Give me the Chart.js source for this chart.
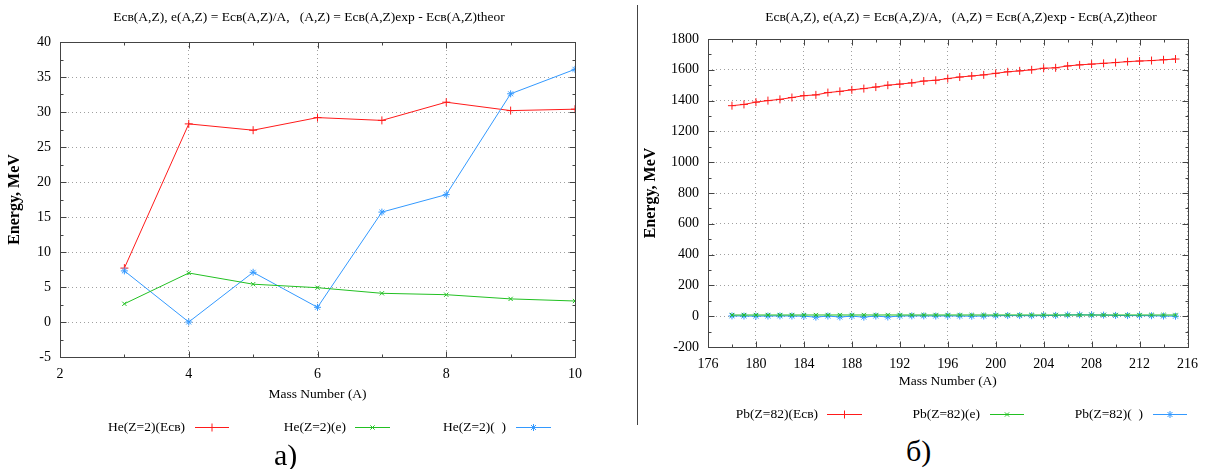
<!DOCTYPE html>
<html>
<head>
<meta charset="utf-8">
<script src="https://cdn.jsdelivr.net/npm/chart.js@4/dist/chart.umd.min.js"></script>
<style>
  body { margin: 0; background: #fff; width: 1207px; height: 469px; overflow: hidden; position: relative; font-family: "Liberation Serif", serif; }
  #chartA { position: absolute; left: 0; top: 0; }
  #chartB { position: absolute; left: 640px; top: 0; }
  .sep { position: absolute; left: 637px; top: 5px; width: 1px; height: 420px; background: #444; }
  .tag { position: absolute; font-size: 30px; line-height: 30px; color: #000; }
</style>
</head>
<body>
<canvas id="chartA" width="600" height="440"></canvas>
<div class="sep"></div>
<canvas id="chartB" width="567" height="430"></canvas>
<div class="tag" style="left:274px;top:440px;">а)</div>
<div class="tag" style="left:906px;top:436px;">б)</div>
<script>
const TITLE = "Есв(A,Z), e(A,Z) = Есв(A,Z)/A,   (A,Z) = Есв(A,Z)exp - Есв(A,Z)theor";

// He, Z=2
const massHe = [3, 4, 5, 6, 7, 8, 9, 10];
const heEsv = [7.7, 28.3, 27.4, 29.2, 28.8, 31.4, 30.2, 30.4];
const heE = [2.6, 7.0, 5.4, 4.9, 4.1, 3.9, 3.3, 3.0];
const heDelta = [7.3, 0.0, 7.1, 2.1, 15.7, 18.2, 32.6, 36.1];
const heLabels = ["He(Z=2)(Есв)", "He(Z=2)(e)", "He(Z=2)(  )"];

// Pb, Z=82
const massPb = [178, 179, 180, 181, 182, 183, 184, 185, 186, 187, 188, 189, 190, 191, 192, 193, 194, 195, 196,
  197, 198, 199, 200, 201, 202, 203, 204, 205, 206, 207, 208, 209, 210, 211, 212, 213, 214, 215];
const pbEsv = [1367, 1375, 1390, 1400, 1408, 1420, 1432, 1437, 1452, 1460, 1470, 1478, 1488, 1500, 1507, 1515,
  1527, 1532, 1543, 1553, 1560, 1567, 1577, 1587, 1593, 1600, 1610, 1613, 1625, 1632, 1637, 1642, 1647, 1653,
  1657, 1660, 1665, 1670];
const pbE = [7.68, 7.68, 7.72, 7.73, 7.74, 7.76, 7.78, 7.77, 7.81, 7.81, 7.82, 7.82, 7.83, 7.85, 7.85, 7.85,
  7.87, 7.86, 7.87, 7.88, 7.88, 7.87, 7.89, 7.90, 7.89, 7.88, 7.89, 7.87, 7.89, 7.88, 7.87, 7.86, 7.84, 7.83,
  7.82, 7.79, 7.78, 7.77];
const pbDelta = [2, 1, 0, 1, 2, 1, 0, -6, 1, -5, 0, -6, 1, -5, 1, 2, 2, 1, 2, 1, 0, 1, 3, 4, 4, 3, 4, 5, 8, 9,
  8, 7, 5, 4, 4, 3, 1, 0];
const pbLabels = ["Pb(Z=82)(Есв)", "Pb(Z=82)(e)", "Pb(Z=82)(  )"];

const RED = "#ff1a1a";
const GREEN = "#22c022";
const BLUE = "#3399ff";
const FONT = '"Liberation Serif", "Times New Roman", serif';
Chart.defaults.font.family = FONT;
Chart.defaults.color = "#000";

const pts = (xs, ys) => xs.map((x, i) => ({ x, y: ys[i] }));

function line(ctx, x1, y1, x2, y2) {
  ctx.beginPath();
  ctx.moveTo(x1, y1);
  ctx.lineTo(x2, y2);
  ctx.stroke();
}

// gnuplot-like frame: border, inward ticks on all sides, title and legend
const gnuFrame = {
  id: "gnuFrame",
  afterDraw(chart, args, o) {
    const { ctx, chartArea: a, scales: { x, y } } = chart;
    ctx.save();
    ctx.strokeStyle = "#444";
    ctx.lineWidth = 1;
    const L = Math.round(a.left) + 0.5, R = Math.round(a.right) + 0.5;
    const T = Math.round(a.top) + 0.5, B = Math.round(a.bottom) + 0.5;
    ctx.strokeRect(L, T, R - L, B - T);

    const isMajor = (v, step) => Math.abs(v / step - Math.round(v / step)) < 1e-6;
    for (let v = x.min; v <= x.max + 1e-9; v += o.minorX) {
      const px = Math.round(x.getPixelForValue(v)) + 0.5;
      const len = isMajor(v, o.majorX) ? 6 : 3;
      line(ctx, px, B, px, B - len);
      line(ctx, px, T, px, T + len);
    }
    for (let v = y.min; v <= y.max + 1e-9; v += o.minorY) {
      const py = Math.round(y.getPixelForValue(v)) + 0.5;
      const len = isMajor(v, o.majorY) ? 6 : 3;
      line(ctx, L, py, L + len, py);
      line(ctx, R, py, R - len, py);
    }

    ctx.fillStyle = "#000";
    ctx.font = "13.5px " + FONT;
    ctx.textAlign = "center";
    ctx.textBaseline = "middle";
    ctx.fillText(o.title, o.titleX, o.titleY);

    chart.data.datasets.forEach((ds, i) => {
      const it = o.legend[i];
      ctx.fillStyle = "#000";
      ctx.textAlign = "right";
      ctx.fillText(ds.label, it.tx, o.legendY);
      ctx.strokeStyle = ds.borderColor;
      ctx.lineWidth = 1;
      line(ctx, it.s1, o.legendY + 0.5, it.s2, o.legendY + 0.5);
      Chart.helpers.drawPoint(ctx, { pointStyle: ds.pointStyle, radius: ds.pointRadius, rotation: 0, borderWidth: 1 },
        (it.s1 + it.s2) / 2, o.legendY + 0.5);
    });
    ctx.restore();
  }
};

function makeDatasets(xs, a, b, c, labels) {
  const base = { borderWidth: 1, pointBorderWidth: 1, backgroundColor: "transparent", tension: 0 };
  return [
    { ...base, label: labels[0], data: pts(xs, a), borderColor: RED, pointBorderColor: RED, pointStyle: "cross", pointRadius: 4, order: 2 },
    { ...base, label: labels[1], data: pts(xs, b), borderColor: GREEN, pointBorderColor: GREEN, pointStyle: "crossRot", pointRadius: 3, order: 0 },
    { ...base, label: labels[2], data: pts(xs, c), borderColor: BLUE, pointBorderColor: BLUE, pointStyle: "star", pointRadius: 3.5, order: 1 },
  ];
}

function axis(min, max, step, extra) {
  return Object.assign({
    type: "linear",
    min, max,
    ticks: { stepSize: step, color: "#000", font: { family: FONT, size: 14 }, padding: 9, callback: (v) => String(v) },
    grid: { color: "#a0a0a0", drawTicks: false, lineWidth: 1 },
    border: { display: false, dash: [1, 3] },
  }, extra);
}

function makeChart(id, cfg) {
  return new Chart(document.getElementById(id), {
    type: "line",
    data: { datasets: makeDatasets(cfg.xs, cfg.a, cfg.b, cfg.c, cfg.labels) },
    options: {
      responsive: false,
      animation: false,
      layout: { padding: cfg.padding },
      plugins: { legend: { display: false }, title: { display: false }, tooltip: { enabled: false }, gnuFrame: cfg.frame },
      scales: {
        x: axis(cfg.xMin, cfg.xMax, cfg.xStep, {
          afterFit: (s) => { s.height = cfg.xHeight; },
          title: { display: true, text: "Mass Number (A)", color: "#000", font: { family: FONT, size: 13.5 }, padding: { top: 0, bottom: cfg.xTitlePad } },
        }),
        y: axis(cfg.yMin, cfg.yMax, cfg.yStep, {
          afterFit: (s) => { s.width = cfg.yWidth; },
          title: { display: true, text: "Energy, MeV", color: "#000", font: { family: FONT, size: 16, weight: "bold" }, padding: { top: cfg.yTitlePad, bottom: 0 } },
        }),
      },
    },
    plugins: [gnuFrame],
  });
}

makeChart("chartA", {
  xs: massHe, a: heEsv, b: heE, c: heDelta, labels: heLabels,
  xMin: 2, xMax: 10, xStep: 2, yMin: -5, yMax: 40, yStep: 5,
  padding: { top: 42, right: 25, bottom: 35, left: 0 },
  xHeight: 48, yWidth: 60, xTitlePad: 2, yTitlePad: 5,
  frame: {
    minorX: 1, majorX: 2, minorY: 2.5, majorY: 5,
    title: TITLE, titleX: 309, titleY: 17,
    legendY: 427,
    legend: [{ tx: 185, s1: 195, s2: 229 }, { tx: 346, s1: 355, s2: 390 }, { tx: 506, s1: 516, s2: 551 }],
  },
});

makeChart("chartB", {
  xs: massPb, a: pbEsv, b: pbE, c: pbDelta, labels: pbLabels,
  xMin: 176, xMax: 216, xStep: 4, yMin: -200, yMax: 1800, yStep: 200,
  padding: { top: 39, right: 10, bottom: 39, left: 0 },
  xHeight: 44, yWidth: 68, xTitlePad: 1, yTitlePad: 1,
  frame: {
    minorX: 2, majorX: 4, minorY: 100, majorY: 200,
    title: TITLE, titleX: 321, titleY: 17,
    legendY: 414,
    legend: [{ tx: 178, s1: 187, s2: 222 }, { tx: 340, s1: 350, s2: 384 }, { tx: 503, s1: 513, s2: 547 }],
  },
});
</script>
</body>
</html>
